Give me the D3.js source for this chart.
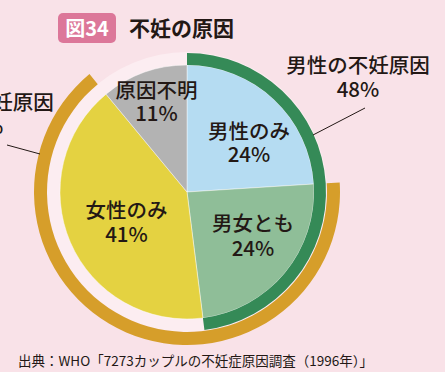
<!DOCTYPE html>
<html>
<head>
<meta charset="utf-8">
<script src="https://cdn.jsdelivr.net/npm/d3@7"></script>
<style>
  html, body { margin: 0; padding: 0; background: #f9e2e8; }
  svg { display: block; }
  text { font-family: "Noto Sans CJK JP", "Noto Sans", sans-serif; fill: #231815; }
</style>
</head>
<body>
<svg id="chart" width="445" height="372"></svg>
<script>
// Causes of infertility (WHO, 7273 couples, 1996)
const categories = ["男性のみ", "男女とも", "女性のみ", "原因不明"];
const values = [24, 24, 41, 11];
const sliceColors = ["#b5dcf2", "#8fbe98", "#e4d241", "#b3b3b3"];

// Outer rings grouping slices by sex
const groupNames = ["男性の不妊原因", "女性の不妊原因"];
const groupMembers = [["男性のみ", "男女とも"], ["男女とも", "女性のみ"]];
const groupColors = ["#358a57", "#d69e2a"];

const svg = d3.select("#chart");
const cx = 187, cy = 192;
const rPie = 127, rGreenOut = 139, rOrangeIn = 140, rOrangeOut = 153;

// Title badge
svg.append("rect").attr("x", 58).attr("y", 13).attr("width", 58).attr("height", 30)
  .attr("rx", 5).attr("fill", "#dc7799");
svg.append("text").attr("x", 87).attr("y", 36).attr("text-anchor", "middle")
  .style("fill", "#fff").style("font-size", "20px").style("font-weight", 700)
  .text("図34");
svg.append("text").attr("x", 129).attr("y", 36)
  .style("font-size", "21px").style("font-weight", 700)
  .text("不妊の原因");

const g = svg.append("g").attr("transform", `translate(${cx},${cy})`);

const pie = d3.pie().sort(null).value(d => d.value);
const slices = pie(categories.map((c, i) => ({ name: c, value: values[i], color: sliceColors[i] })));
const byName = Object.fromEntries(slices.map(s => [s.data.name, s]));

// pale band around the pie
g.append("path")
  .attr("d", d3.arc().innerRadius(rPie - 1).outerRadius(rOrangeIn)({ startAngle: 0, endAngle: 2 * Math.PI }))
  .attr("fill", "#fcedf1");

// pie slices
const arc = d3.arc().innerRadius(0).outerRadius(rPie);
g.selectAll("path.slice").data(slices).join("path")
  .attr("class", "slice")
  .attr("d", arc)
  .attr("fill", d => d.data.color)
  .attr("stroke", "rgba(255,255,255,0.55)")
  .attr("stroke-width", 0.8);

// group rings
const ringRadii = [[rPie, rGreenOut], [rOrangeIn, rOrangeOut]];
groupMembers.forEach((members, i) => {
  const parts = members.map(m => byName[m]);
  const start = d3.min(parts, p => p.startAngle);
  const end = d3.max(parts, p => p.endAngle);
  g.append("path")
    .attr("d", d3.arc().innerRadius(ringRadii[i][0]).outerRadius(ringRadii[i][1])({ startAngle: start, endAngle: end }))
    .attr("fill", groupColors[i]);
});

// labels
const fs = "20.5px";
function twoLine(x, y1, y2, l1, l2) {
  svg.append("text").attr("x", x).attr("y", y1).attr("text-anchor", "middle")
    .style("font-size", fs).style("font-weight", 500).text(l1);
  svg.append("text").attr("x", x).attr("y", y2).attr("text-anchor", "middle")
    .style("font-size", fs).style("font-weight", 500).text(l2);
}
const sliceLabelPos = {
  "男性のみ": [249, 139, 162],
  "男女とも": [253, 231, 256],
  "女性のみ": [126.5, 218, 242],
  "原因不明": [156.5, 98, 121]
};
slices.forEach(s => {
  const p = sliceLabelPos[s.data.name];
  twoLine(p[0], p[1], p[2], s.data.name, s.data.value + "%");
});

// group labels with leader lines
const groupTotals = groupMembers.map(ms => d3.sum(ms, m => byName[m].value));
twoLine(358, 73, 97, groupNames[0], groupTotals[0] + "%");
twoLine(-18, 110, 134, groupNames[1], groupTotals[1] + "%");

svg.append("line").attr("x1", 313).attr("y1", 135).attr("x2", 365).attr("y2", 108)
  .attr("stroke", "#231815").attr("stroke-width", 1);
svg.append("line").attr("x1", 7).attr("y1", 145).attr("x2", 40).attr("y2", 154)
  .attr("stroke", "#231815").attr("stroke-width", 1);

// source
svg.append("text").attr("x", 18).attr("y", 366)
  .style("font-size", "13.5px")
  .text("出典：WHO「7273カップルの不妊症原因調査（1996年）」");
</script>
</body>
</html>
